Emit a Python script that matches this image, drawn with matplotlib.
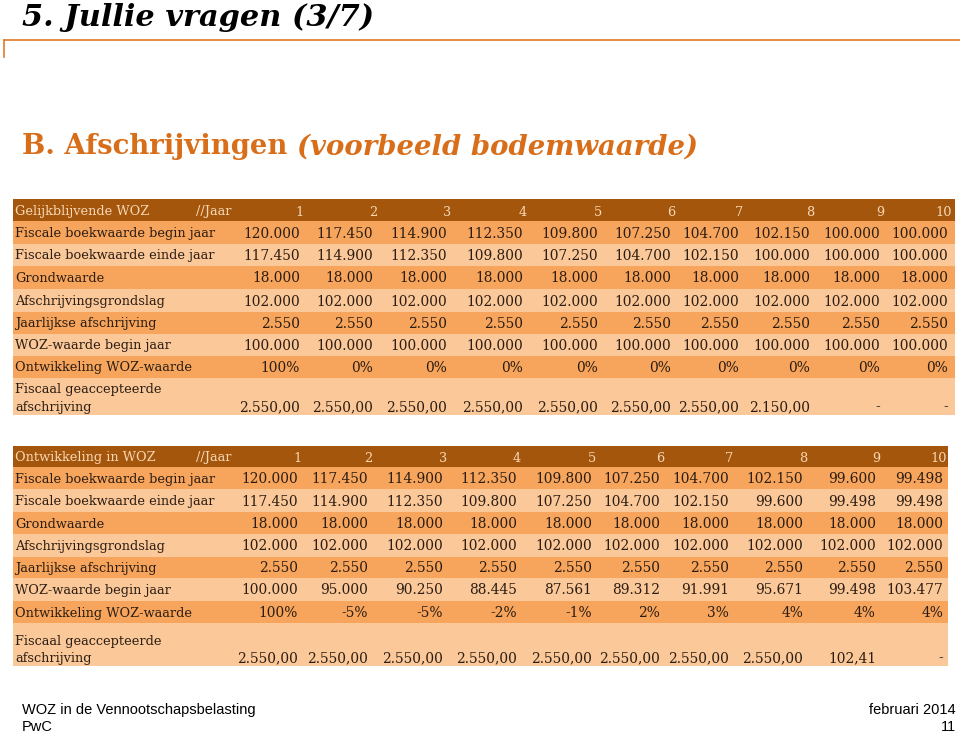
import matplotlib.pyplot as plt
from matplotlib.patches import Rectangle

# data
jaren = ['1', '2', '3', '4', '5', '6', '7', '8', '9', '10']
rij_labels = ['Fiscale boekwaarde begin jaar', 'Fiscale boekwaarde einde jaar',
              'Grondwaarde', 'Afschrijvingsgrondslag', 'Jaarlijkse afschrijving',
              'WOZ-waarde begin jaar', 'Ontwikkeling WOZ-waarde',
              'Fiscaal geaccepteerde\nafschrijving']

gelijk_begin = ['120.000', '117.450', '114.900', '112.350', '109.800', '107.250', '104.700', '102.150', '100.000', '100.000']
gelijk_einde = ['117.450', '114.900', '112.350', '109.800', '107.250', '104.700', '102.150', '100.000', '100.000', '100.000']
gelijk_grond = ['18.000'] * 10
gelijk_grondslag = ['102.000'] * 10
gelijk_afschr = ['2.550'] * 10
gelijk_woz = ['100.000'] * 10
gelijk_ontw = ['100%', '0%', '0%', '0%', '0%', '0%', '0%', '0%', '0%', '0%']
gelijk_fiscaal = ['2.550,00'] * 7 + ['2.150,00', '-', '-']

ontw_begin = ['120.000', '117.450', '114.900', '112.350', '109.800', '107.250', '104.700', '102.150', '99.600', '99.498']
ontw_einde = ['117.450', '114.900', '112.350', '109.800', '107.250', '104.700', '102.150', '99.600', '99.498', '99.498']
ontw_grond = ['18.000'] * 10
ontw_grondslag = ['102.000'] * 10
ontw_afschr = ['2.550'] * 10
ontw_woz = ['100.000', '95.000', '90.250', '88.445', '87.561', '89.312', '91.991', '95.671', '99.498', '103.477']
ontw_ontw = ['100%', '-5%', '-5%', '-2%', '-1%', '2%', '3%', '4%', '4%', '4%']
ontw_fiscaal = ['2.550,00'] * 8 + ['102,41', '-']

tabel1 = [gelijk_begin, gelijk_einde, gelijk_grond, gelijk_grondslag,
          gelijk_afschr, gelijk_woz, gelijk_ontw, gelijk_fiscaal]
tabel2 = [ontw_begin, ontw_einde, ontw_grond, ontw_grondslag,
          ontw_afschr, ontw_woz, ontw_ontw, ontw_fiscaal]

DONKER = '#A4560C'
ORANJE = '#F7A55C'
LICHT = '#FBC89A'
TEKST = '#2b1d12'
KOP = '#F8D8B4'
SERIF = ['DejaVu Serif']
SANS = ['Liberation Sans Narrow', 'Liberation Sans']
FS_LABEL = 9.3
FS_GETAL = 9.9

fig = plt.figure(figsize=(9.6, 7.34), dpi=100)
ax = fig.add_axes([0, 0, 1, 1])
ax.set_xlim(0, 960)
ax.set_ylim(734, 0)
ax.axis('off')

# title area
ax.text(22, 17, '5. Jullie vragen (3/7)', fontsize=21.9, fontweight='bold',
        fontstyle='italic', family=SERIF, va='center', ha='left', color='black')
ax.plot([4, 960], [40, 40], color='#E07B28', lw=1.2)
ax.plot([4, 4], [40, 57], color='#E07B28', lw=1.2)
t = ax.text(22, 147, 'B. Afschrijvingen ', fontsize=19.8, fontweight='bold',
            family=SERIF, va='center', ha='left', color='#D86E1A')
fig.canvas.draw()
bb = t.get_window_extent().transformed(ax.transData.inverted())
ax.text(bb.x1, 147, '(voorbeeld bodemwaarde)', fontsize=19.8, fontweight='bold',
        fontstyle='italic', family=SERIF, va='center', ha='left', color='#D86E1A')


def teken_tabel(titel, waarden, top, rijgrenzen, kolommen, rechts):
    # header
    ax.add_patch(Rectangle((13, top), rechts - 13, rijgrenzen[0] - top,
                           facecolor=DONKER, edgecolor='none'))
    hy = (top + rijgrenzen[0]) / 2 + 1
    ax.text(15, hy, titel, fontsize=FS_LABEL, family=SERIF, color=KOP,
            va='center', ha='left')
    ax.text(231, hy, '//Jaar', fontsize=FS_LABEL, family=SERIF, color=KOP,
            va='center', ha='right')
    for j, jaar in enumerate(jaren):
        ax.text(kolommen[j] + 4, hy + 1, jaar, fontsize=FS_LABEL, family=SERIF,
                color=KOP, va='center', ha='right')
    # rows
    for i, label in enumerate(rij_labels):
        y0 = rijgrenzen[i]
        y1 = rijgrenzen[i + 1]
        kleur = ORANJE if i % 2 == 0 else LICHT
        ax.add_patch(Rectangle((13, y0), rechts - 13, y1 - y0,
                               facecolor=kleur, edgecolor='none'))
        if '\n' in label:
            ty = y1 - 4
            ax.text(15, ty, label, fontsize=FS_LABEL, family=SERIF, color=TEKST,
                    va='baseline', ha='left', linespacing=1.45)
            for j, w in enumerate(waarden[i]):
                ax.text(kolommen[j], ty, w, fontsize=FS_GETAL, family=SERIF,
                        color=TEKST, va='baseline', ha='right')
        else:
            ty = (y0 + y1) / 2 + 1
            ax.text(15, ty, label, fontsize=FS_LABEL, family=SERIF, color=TEKST,
                    va='center', ha='left')
            for j, w in enumerate(waarden[i]):
                ax.text(kolommen[j], ty, w, fontsize=FS_GETAL, family=SERIF,
                        color=TEKST, va='center', ha='right')


teken_tabel('Gelijkblijvende WOZ', tabel1, 199,
            [221, 244, 266, 289, 312, 334, 356, 378, 415],
            [300, 373, 447, 523, 598, 671, 739, 810, 880, 948], 955)
teken_tabel('Ontwikkeling in WOZ', tabel2, 446,
            [467, 489, 512, 534, 557, 578, 601, 623, 666],
            [298, 368, 443, 517, 592, 660, 729, 803, 876, 943], 948)

# footer
ax.text(22, 710, 'WOZ in de Vennootschapsbelasting', fontsize=10.5,
        family=SANS, va='center', ha='left')
ax.text(22, 727, 'PwC', fontsize=10.5, family=SANS, va='center', ha='left')
ax.text(956, 710, 'februari 2014', fontsize=10.5, family=SANS,
        va='center', ha='right')
ax.text(956, 727, '11', fontsize=10.5, family=SANS, va='center', ha='right')

fig.savefig('out.png', dpi=100, facecolor='white')
